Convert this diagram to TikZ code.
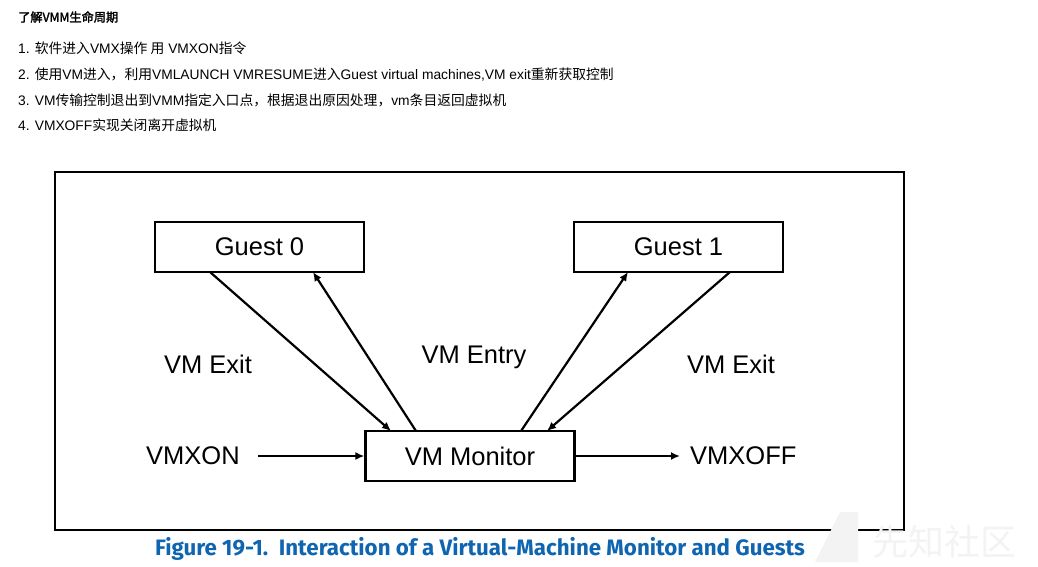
\documentclass[tikz,border=0pt]{standalone}
\usepackage{fontspec}
\setmainfont{Liberation Sans}
\newfontfamily\cjk{Noto Sans CJK SC}
\newfontfamily\cjkb[FakeBold=2]{Noto Sans CJK SC}
\newfontfamily\capfont{Fira Sans}
\usetikzlibrary{arrows.meta,calc}
\definecolor{capblue}{HTML}{0F65B0}
\definecolor{wm}{HTML}{F3F3F3}
\begin{document}
\begin{tikzpicture}[x=1pt,y=-1pt,
  box/.style={draw,line width=2.3pt,minimum width=209pt,minimum height=50pt,inner sep=0pt,font=\fontsize{25.5}{28}\selectfont},
  lbl/.style={font=\fontsize{25.5}{28}\selectfont,inner sep=0pt},
  txt/.style={anchor=west,inner sep=0pt,font=\fontsize{13.8}{15}\selectfont},
  arr/.style={line width=2.2pt,-{Latex[length=9pt,width=8pt]}}]
\useasboundingbox (0,0) rectangle (1038,567);
% header text
\node[txt,font=\fontsize{12.2}{14}\selectfont] (h) at (18,17) {\cjkb 了解VMM生命周期};
\node[txt] (t1) at (18,48) {1. {\cjk 软件进入}VMX{\cjk 操作 用} VMXON{\cjk 指令}};
\node[txt] (t2) at (18,75) {2. {\cjk 使用}VM{\cjk 进入，利用}VMLAUNCH VMRESUME{\cjk 进入}Guest virtual machines,VM exit{\cjk 重新获取控制}};
\node[txt] (t3) at (18,100) {3. VM{\cjk 传输控制退出到}VMM{\cjk 指定入口点，根据退出原因处理，}vm{\cjk 条目返回虚拟机}};
\node[txt] (t4) at (18,125) {4. VMXOFF{\cjk 实现关闭离开虚拟机}};
% frame
\node[draw,line width=2.3pt,minimum width=849pt,minimum height=358pt,inner sep=0pt] (frame) at (479.5,351) {};
% boxes
\node[box] (g0) at (259.5,247) {Guest 0};
\node[box] (g1) at (678.5,247) {Guest 1};
\node[box] (mon) at (470,456) {VM Monitor};
% labels
\node[lbl] (ex0) at (208,364) {VM Exit};
\node[lbl] (ent) at (474,357) {VM Entry};
\node[lbl] (ex1) at (731,364) {VM Exit};
\node[lbl,anchor=west] (on) at (146,456) {VMXON};
\node[lbl,anchor=west] (off) at (690,456) {VMXOFF};
% connectors
\coordinate (a0) at (210,272);
\coordinate (b0) at (391,431);
\coordinate (c0) at (416,431);
\coordinate (d0) at (313,272);
\coordinate (c1) at (521,431);
\coordinate (d1) at (628,272);
\coordinate (a1) at (730,272);
\coordinate (b1) at (547,431);
\coordinate (ons) at (258,456);
\coordinate (offe) at (680,456);
\draw[arr] (a0) -- (b0);
\draw[arr] (c0) -- (d0);
\draw[arr] (c1) -- (d1);
\draw[arr] (a1) -- (b1);
\draw[arr] (ons) -- (mon.west);
\draw[arr] (mon.east) -- (offe);
% caption
\node[inner sep=0pt,text=capblue,font=\capfont\fontsize{22.3}{25}\selectfont\bfseries] (cap) at (480,549) {Figure 19-1.\ \ Interaction of a Virtual-Machine Monitor and Guests};
% watermark
\node[inner sep=0pt,text=wm,font=\cjk\fontsize{36}{40}\selectfont] (wmk) at (944,542) {先知社区};
\fill[wm] (840,512) -- (858,512) -- (858,562) -- (815,562) -- cycle;
\end{tikzpicture}
\end{document}
